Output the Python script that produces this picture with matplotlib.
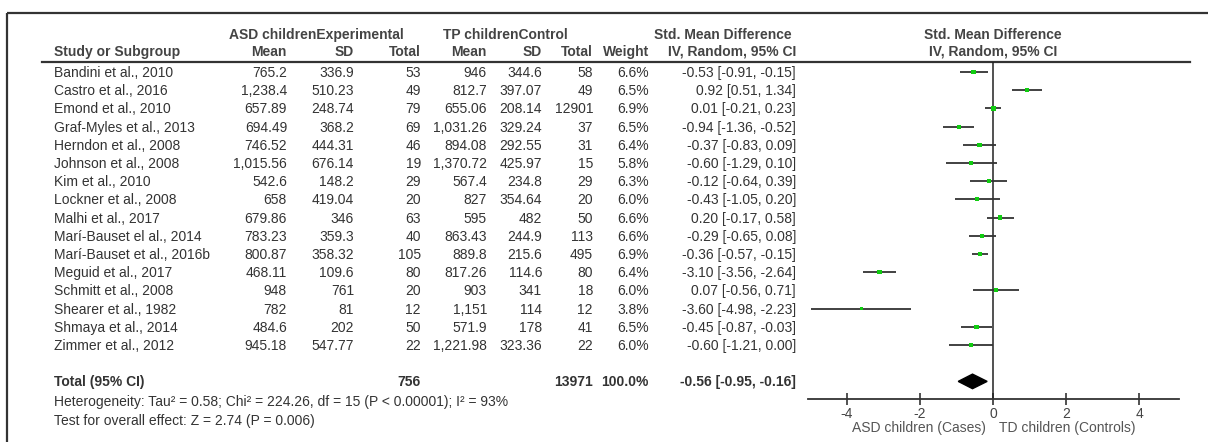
import numpy as np
import matplotlib.pyplot as plt
from matplotlib.patches import Rectangle

plt.rcParams['font.family'] = ['Liberation Sans', 'DejaVu Sans']

# table data
studies = ["Bandini et al., 2010", "Castro et al., 2016", "Emond et al., 2010",
           "Graf-Myles et al., 2013", "Herndon et al., 2008", "Johnson et al., 2008",
           "Kim et al., 2010", "Lockner et al., 2008", "Malhi et al., 2017",
           "Marí-Bauset el al., 2014", "Marí-Bauset et al., 2016b", "Meguid et al., 2017",
           "Schmitt et al., 2008", "Shearer et al., 1982", "Shmaya et al., 2014",
           "Zimmer et al., 2012"]
exp_mean = [765.2, 1238.4, 657.89, 694.49, 746.52, 1015.56, 542.6, 658, 679.86,
            783.23, 800.87, 468.11, 948, 782, 484.6, 945.18]
exp_sd = [336.9, 510.23, 248.74, 368.2, 444.31, 676.14, 148.2, 419.04, 346,
          359.3, 358.32, 109.6, 761, 81, 202, 547.77]
exp_n = [53, 49, 79, 69, 46, 19, 29, 20, 63, 40, 105, 80, 20, 12, 50, 22]
ctl_mean = [946, 812.7, 655.06, 1031.26, 894.08, 1370.72, 567.4, 827, 595,
            863.43, 889.8, 817.26, 903, 1151, 571.9, 1221.98]
ctl_sd = [344.6, 397.07, 208.14, 329.24, 292.55, 425.97, 234.8, 354.64, 482,
          244.9, 215.6, 114.6, 341, 114, 178, 323.36]
ctl_n = [58, 49, 12901, 37, 31, 15, 29, 20, 50, 113, 495, 80, 18, 12, 41, 22]
weight = [6.6, 6.5, 6.9, 6.5, 6.4, 5.8, 6.3, 6.0, 6.6, 6.6, 6.9, 6.4, 6.0, 3.8, 6.5, 6.0]
smd = [-0.53, 0.92, 0.01, -0.94, -0.37, -0.60, -0.12, -0.43, 0.20, -0.29, -0.36,
       -3.10, 0.07, -3.60, -0.45, -0.60]
ci_lo = [-0.91, 0.51, -0.21, -1.36, -0.83, -1.29, -0.64, -1.05, -0.17, -0.65, -0.57,
         -3.56, -0.56, -4.98, -0.87, -1.21]
ci_hi = [-0.15, 1.34, 0.23, -0.52, 0.09, 0.10, 0.39, 0.20, 0.58, 0.08, -0.15,
         -2.64, 0.71, -2.23, -0.03, 0.00]
total_exp, total_ctl = 756, 13971
total_smd, total_lo, total_hi = -0.56, -0.95, -0.16
ticks = [-4, -2, 0, 2, 4]

W, H = 1208, 442
fig = plt.figure(figsize=(W / 100, H / 100), dpi=100)
bg = fig.add_axes([0, 0, 1, 1])
bg.set_xlim(0, W)
bg.set_ylim(H, 0)
bg.axis('off')

tc = '#333333'
fs = 10

def row_y(i):
    return 72 + 18.2 * i

# frame and header line
bg.add_patch(Rectangle((7, 13), 1215, 450, fill=False, ec='#333333', lw=1.6))
bg.plot([42, 1190], [62, 62], color='#333333', lw=1.6)

# headers
hb = dict(fontsize=fs, fontweight='bold', color='#444444', va='center')
bg.text(316, 35, "ASD childrenExperimental", ha='center', **hb)
bg.text(505, 35, "TP childrenControl", ha='center', **hb)
bg.text(723, 35, "Std. Mean Difference", ha='center', **hb)
bg.text(993, 35, "Std. Mean Difference", ha='center', **hb)
bg.text(54, 52, "Study or Subgroup", ha='left', **hb)
for x, s in [(287, "Mean"), (354, "SD"), (421, "Total"), (487, "Mean"),
             (542, "SD"), (593, "Total"), (649, "Weight"), (796, "IV, Random, 95% CI")]:
    bg.text(x, 52, s, ha='right', **hb)
bg.text(993, 52, "IV, Random, 95% CI", ha='center', **hb)

# rows
cols = [287, 354, 421, 487, 542, 593, 649]
for i, name in enumerate(studies):
    y = row_y(i) + 1
    bg.text(54, y, name, ha='left', va='center', fontsize=fs, color=tc)
    vals = [f"{exp_mean[i]:,}", f"{exp_sd[i]:,}", f"{exp_n[i]}",
            f"{ctl_mean[i]:,}", f"{ctl_sd[i]:,}", f"{ctl_n[i]}", f"{weight[i]:.1f}%"]
    for x, v in zip(cols, vals):
        bg.text(x, y, v, ha='right', va='center', fontsize=fs, color=tc)
    bg.text(796, y, f"{smd[i]:.2f} [{ci_lo[i]:.2f}, {ci_hi[i]:.2f}]",
            ha='right', va='center', fontsize=fs, color=tc)

yt = row_y(17) + 1
tb = dict(fontsize=fs, fontweight='bold', color=tc, va='center')
bg.text(54, yt, "Total (95% CI)", ha='left', **tb)
bg.text(421, yt, f"{total_exp}", ha='right', **tb)
bg.text(593, yt, f"{total_ctl}", ha='right', **tb)
bg.text(649, yt, "100.0%", ha='right', **tb)
bg.text(796, yt, f"{total_smd:.2f} [{total_lo:.2f}, {total_hi:.2f}]", ha='right', **tb)
bg.text(54, 402, "Heterogeneity: Tau² = 0.58; Chi² = 224.26, df = 15 (P < 0.00001); I² = 93%",
        ha='left', va='center', fontsize=fs, color=tc)
bg.text(54, 421, "Test for overall effect: Z = 2.74 (P = 0.006)",
        ha='left', va='center', fontsize=fs, color=tc)

# forest plot
x0, x1 = 808, 1179
y0, y1 = 62, 399
ax = fig.add_axes([x0 / W, 1 - y1 / H, (x1 - x0) / W, (y1 - y0) / H])
ax.patch.set_alpha(0)
ax.set_xlim((x0 - 993) / 36.6, (x1 - 993) / 36.6)
ax.set_ylim((y1 - 72) / 18.2, (y0 - 72) / 18.2)
for s in ['top', 'left', 'right']:
    ax.spines[s].set_visible(False)
ax.spines['bottom'].set_color('#333333')
ax.spines['bottom'].set_linewidth(1.3)
ax.axvline(0, color='#222222', lw=1.1)

rows = np.arange(len(studies))
ax.hlines(rows, ci_lo, ci_hi, color='#333333', lw=1.3)
ax.scatter(smd, rows, marker='s', s=np.array(weight) * 1.4, color='#11cc11',
           linewidths=0, zorder=3)
ax.fill([total_lo, total_smd, total_hi, total_smd], [17, 16.6, 17, 17.4],
        color='black', zorder=3)

ax.set_xticks(ticks)
ax.set_xticklabels([str(t) for t in ticks])
ax.set_yticks([])
ax.tick_params(axis='x', direction='inout', length=9, width=1.2, color='#333333',
               labelsize=fs, labelcolor='#444444', pad=1)

bg.text(919, 428, "ASD children (Cases)", ha='center', va='center', fontsize=fs, color='#555555')
bg.text(1067, 428, "TD children (Controls)", ha='center', va='center', fontsize=fs, color='#555555')

fig.savefig('out.png', dpi=100)
